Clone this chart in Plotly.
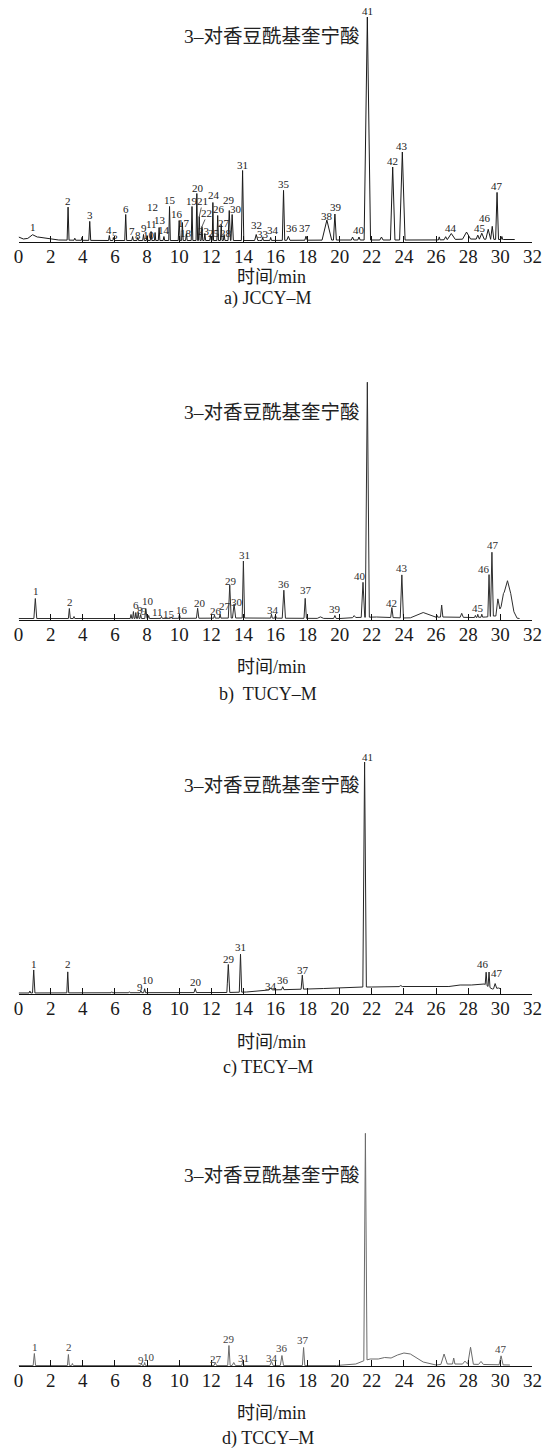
import numpy as np
import plotly.graph_objects as go

# ======================= DATA =======================
# retention time (min), peak height above baseline (a.u.), base width (min), peak number
# ---- a) JCCY-M
rt_a = [0.87, 3.08, 3.5, 3.95, 4.43, 5.65, 5.92, 6.67, 7.1, 7.42, 7.78, 8.0, 8.25, 8.5, 8.75, 9.05,
        9.4, 10.0, 10.2, 10.45, 10.8, 11.1, 11.25, 11.42, 11.6, 11.95, 12.1, 12.4, 12.62, 12.8,
        13.12, 13.3, 13.95, 14.8, 15.2, 15.7, 16.5, 16.8, 17.9, 19.2, 19.7, 20.8, 21.2, 21.72,
        22.6, 23.3, 23.9, 26.2, 26.6, 26.95, 27.9, 28.6, 28.85, 29.25, 29.5, 29.8, 30.1]
h_a = [3, 33, 2, 3, 19, 5, 3, 26, 4, 3, 6, 5, 9, 8, 13, 4,
       34, 20, 18, 7, 34, 47, 24, 14, 7, 5, 38, 25, 16, 6,
       30, 26, 70, 6, 3, 3, 50, 4, 4, 20, 26, 3, 3, 223,
       3, 73, 88, 3, 3, 6, 7, 4, 6, 10, 13, 47, 3]
w_a = [0.6, 0.12, 0.1, 0.08, 0.12, 0.1, 0.1, 0.12, 0.1, 0.1, 0.1, 0.1, 0.1, 0.08, 0.1, 0.1,
       0.1, 0.12, 0.1, 0.1, 0.1, 0.1, 0.1, 0.1, 0.1, 0.1, 0.08, 0.1, 0.1, 0.1,
       0.15, 0.15, 0.15, 0.2, 0.1, 0.1, 0.15, 0.2, 0.15, 0.6, 0.18, 0.15, 0.15, 0.4,
       0.2, 0.28, 0.34, 0.1, 0.2, 0.5, 0.5, 0.2, 0.3, 0.3, 0.2, 0.18, 0.1]
lab_a = ['1', '2', '', '', '3', '4', '5', '6', '7', '8', '9', '10', '11', '12', '13', '14',
         '15', '16', '17', '18', '19', '20', '21', '22', '23', '25', '24', '26', '27', '28',
         '29', '30', '31', '32', '33', '34', '35', '36', '37', '38', '39', '', '40', '41',
         '', '42', '43', '', '', '44', '', '', '45', '46', '', '47', '']
base_t_a = [0, 0.3, 1.2, 2.5, 5, 15, 20, 21.5, 26, 28, 30.2, 30.9]
base_h_a = [5, 3, 5, 2, 1.5, 1.5, 2, 2, 2, 3, 2.5, 2.5]

# ---- b) TUCY-M
rt_b = [1.04, 3.16, 3.45, 7.0, 7.15, 7.3, 7.45, 7.6, 7.92, 8.1, 8.9, 9.5, 10.02, 11.15, 12.2,
        12.55, 13.15, 13.42, 14.0, 15.75, 16.0, 16.52, 17.85, 18.8, 19.7, 20.9, 21.45, 21.72,
        23.25, 23.87, 25.2, 26.05, 26.35, 27.6, 28.45, 28.6, 28.85, 29.3, 29.48, 29.85,
        30.2, 30.45, 30.65]
h_b = [20, 10, 2, 4, 7, 6, 6, 4, 10, 3, 2, 1.5, 4, 10, 3,
       4, 33, 14, 57, 4, 3, 28, 20, 1.5, 3, 2, 35, 235,
       10, 43, 5, 2, 12, 4, 2, 3, 3, 42, 64, 14,
       14, 24, 12]
w_b = [0.18, 0.12, 0.1, 0.1, 0.1, 0.1, 0.1, 0.1, 0.12, 0.1, 0.1, 0.1, 0.1, 0.15, 0.1,
       0.1, 0.18, 0.2, 0.15, 0.1, 0.1, 0.2, 0.15, 0.4, 0.15, 0.2, 0.22, 0.25,
       0.15, 0.2, 1.6, 0.1, 0.15, 0.2, 0.1, 0.1, 0.1, 0.15, 0.18, 0.25,
       0.9, 0.8, 0.8]
lab_b = ['1', '2', '', '', '6', '', '8', '9', '10', '', '11', '15', '16', '20', '26',
         '27', '29', '30', '31', '34', '', '36', '37', '', '39', '', '40', '41',
         '42', '43', '', '', '', '', '', '45', '', '46', '47', '',
         '', '', '']
base_t_b = [0, 8, 14, 20, 21, 22.3, 24, 26.5, 28.3, 29.1, 29.6, 30.0, 31.2]
base_h_b = [1.5, 1.5, 2, 1.5, 2.5, 3, 2, 3, 2.5, 3, 4, 4, 1.5]

# ---- c) TECY-M
rt_c = [0.7, 0.94, 3.06, 5.8, 6.9, 7.62, 7.85, 11.0, 13.06, 13.82, 15.7, 16.45, 17.67, 21.55,
        23.8, 29.12, 29.3, 29.68]
h_c = [2, 23, 21, 1, 1, 2, 4, 4, 28, 38, 2, 3, 14, 225, 1, 13, 15, 5]
w_c = [0.1, 0.15, 0.12, 0.1, 0.1, 0.1, 0.12, 0.15, 0.18, 0.15, 0.2, 0.15, 0.15, 0.22,
       0.2, 0.12, 0.12, 0.2]
lab_c = ['', '1', '2', '', '', '9', '10', '20', '29', '31', '34', '36', '37', '41',
         '', '46', '', '47']
base_t_c = [0, 13, 14.2, 15.5, 17, 19, 21.4, 22, 24, 26.8, 27.5, 28.2, 29, 29.5, 29.9, 30.05]
base_h_c = [1, 1.5, 2, 4, 4.5, 5.5, 7, 7, 7.5, 7.5, 9, 9, 10, 5, 6, 5]

# ---- d) TCCY-M
rt_d = [0.98, 3.1, 3.35, 7.65, 7.85, 12.25, 13.1, 13.4, 13.97, 15.75, 16.4, 17.75, 21.6,
        26.5, 27.1, 27.8, 28.15, 28.8, 30.05]
h_d = [12, 11, 2, 2, 3, 3, 20, 3, 4, 4, 10, 18, 227, 10, 6, 3, 17, 3, 9]
w_d = [0.15, 0.12, 0.1, 0.1, 0.1, 0.15, 0.15, 0.2, 0.15, 0.2, 0.2, 0.15, 0.2,
       0.4, 0.15, 0.3, 0.35, 0.3, 0.25]
lab_d = ['1', '2', '', '9', '10', '27', '29', '', '31', '34', '36', '37', '41',
         '', '', '', '', '', '47']
base_t_d = [0, 19.8, 21.0, 21.45, 21.9, 22.4, 22.8, 23.2, 23.6, 24.0, 24.4, 24.8, 25.2, 26.0,
            26.5, 27.5, 29.0, 30.6]
base_h_d = [0.5, 0.5, 2, 5, 7, 7, 8.5, 8, 11, 13, 12, 8, 4, 1, 2, 2, 1.5, 1]

x_ticks = [0, 2, 4, 6, 8, 10, 12, 14, 16, 18, 20, 22, 24, 26, 28, 30, 32]
panel_titles = ['a) JCCY\u2013M', 'b)  TUCY\u2013M', 'c) TECY\u2013M', 'd) TCCY\u2013M']
compound_label = '3\u2013对香豆酰基奎宁酸'
x_title = '时间/min'

# ======================= LAYOUT / STYLE =======================
W, H = 556, 1449
SERIF = '"Liberation Serif", "Times New Roman", Times, "DejaVu Serif", "Noto Sans CJK SC", serif'
axis_px = [242, 620, 994, 1366]          # pixel row of each x axis
plot_h = 240                               # pixel height of each plot area (y range == px)
x_left, x_right = 14, 542
line_colors = ['#1a1a1a', '#2e2e2e', '#262626', '#6b6b6b']
label_colors = ['#1a1a1a', '#2e2e2e', '#262626', '#444444']

# label position overrides (time, height) for crowded labels
lab_pos = [
    {'1': (0.9, 15), '4': (5.64, 12), '5': (6.0, 7), '7': (7.09, 11), '8': (7.45, 7),
     '9': (7.82, 14), '10': (8.1, 7), '11': (8.3, 18), '12': (8.36, 35), '13': (8.79, 22),
     '14': (9.03, 12), '15': (9.45, 42), '16': (9.88, 28), '17': (10.3, 19), '18': (10.42, 9),
     '19': (10.79, 41), '20': (11.15, 54), '21': (11.45, 41), '22': (11.7, 29), '23': (11.52, 11),
     '24': (12.18, 47), '25': (12.18, 9), '26': (12.48, 33), '27': (12.79, 19), '28': (12.91, 9),
     '29': (13.09, 42), '30': (13.52, 33), '32': (14.79, 17), '33': (15.2, 8), '34': (15.86, 12),
     '36': (17.03, 14), '37': (17.82, 14), '38': (19.2, 26), '39': (19.76, 35), '40': (21.2, 12),
     '44': (26.9, 14), '45': (28.73, 14), '46': (29.03, 24)},
    {'1': (1.09, 29), '2': (3.21, 18), '6': (7.29, 15), '8': (7.58, 10), '9': (7.78, 9),
     '10': (8.08, 19), '11': (8.65, 8), '15': (9.39, 6), '16': (10.16, 10), '20': (11.27, 17),
     '26': (12.28, 9), '27': (12.83, 14), '29': (13.23, 39), '30': (13.6, 18), '31': (14.04, 65),
     '34': (15.82, 10), '36': (16.56, 36), '37': (17.88, 30), '39': (19.7, 11), '40': (21.27, 44),
     '41': (21.76, 244), '42': (23.23, 17), '43': (23.9, 52), '45': (28.6, 12), '46': (29.01, 51),
     '47': (29.52, 75)},
    {'1': (0.97, 30), '2': (3.09, 30), '9': (7.56, 7), '10': (8.04, 14), '20': (11.07, 12),
     '29': (13.09, 35), '31': (13.84, 47), '34': (15.72, 8), '36': (16.48, 14), '37': (17.7, 24),
     '41': (21.7, 237), '46': (28.9, 30), '47': (29.82, 21)},
    {'1': (1.01, 19), '2': (3.13, 19), '9': (7.6, 6), '10': (8.1, 9), '27': (12.28, 7),
     '29': (13.13, 27), '31': (14.0, 8), '34': (15.76, 8), '36': (16.42, 18), '37': (17.74, 26),
     '41': (21.64, 241), '47': (30.06, 17)},
]
leaders_a = {'21', '22'}
compound_px = [(274, 36), (274, 412), (274, 785), (274, 1175)]
xtitle_px = [277, 667, 1042, 1413]
ptitle_px = [299, 694, 1067, 1438]


def chromatogram(rt, h, w, bt, bh):
    pts = set(bt)
    for r, ww in zip(rt, w):
        pts.update([r - ww / 2, r, r + ww / 2])
    t = np.array(sorted(p for p in pts if bt[0] <= p <= bt[-1]))
    y = np.interp(t, bt, bh)
    for r, hh, ww in zip(rt, h, w):
        y = y + hh * np.clip(1 - np.abs(t - r) / (ww / 2), 0, None)
    return t, y


def value_at(x, rt, h, w, bt, bh):
    v = float(np.interp(x, bt, bh))
    for r, hh, ww in zip(rt, h, w):
        v += hh * max(0.0, 1 - abs(x - r) / (ww / 2))
    return v


panels = [
    (rt_a, h_a, w_a, lab_a, base_t_a, base_h_a),
    (rt_b, h_b, w_b, lab_b, base_t_b, base_h_b),
    (rt_c, h_c, w_c, lab_c, base_t_c, base_h_c),
    (rt_d, h_d, w_d, lab_d, base_t_d, base_h_d),
]

fig = go.Figure()
annotations = []
layout_axes = {}

for i, (rt, hh, ww, labs, bt, bh) in enumerate(panels):
    n = '' if i == 0 else str(i + 1)
    xa, ya = 'x' + n, 'y' + n
    t, y = chromatogram(rt, hh, ww, bt, bh)
    fig.add_trace(go.Scatter(x=t, y=y, mode='lines', xaxis=xa, yaxis=ya,
                             line=dict(color=line_colors[i], width=1), hoverinfo='skip',
                             showlegend=False, cliponaxis=False))
    y0 = 1 - axis_px[i] / H
    y1 = 1 - (axis_px[i] - plot_h) / H
    layout_axes['xaxis' + n] = dict(
        domain=[x_left / W, x_right / W], range=[0, 32], anchor=ya,
        tickvals=x_ticks, ticktext=[str(v) for v in x_ticks],
        ticks='inside', ticklen=6, tickwidth=1, tickcolor='#111', ticklabelstandoff=-3,
        showline=True, linecolor='#111', linewidth=1.3, showgrid=False, zeroline=False,
        tickfont=dict(family=SERIF, size=19, color='#1a1a1a'), fixedrange=True)
    layout_axes['yaxis' + n] = dict(
        domain=[y0, y1], range=[0, plot_h], anchor=xa, visible=False, fixedrange=True)

    # peak labels
    for r, lab in zip(rt, labs):
        if not lab:
            continue
        apex = value_at(r, rt, hh, ww, bt, bh)
        if lab in lab_pos[i]:
            lx, ly = lab_pos[i][lab]
        else:
            lx, ly = r, apex + 6
        if i == 0 and lab in leaders_a:
            annotations.append(dict(
                x=r, y=apex, xref=xa, yref=ya, ax=lx - 0.05, ay=ly - 5, axref=xa, ayref=ya,
                showarrow=True, arrowhead=0, arrowwidth=0.8, arrowcolor='#333', text='',
                standoff=0, startstandoff=0))
        annotations.append(dict(
            x=lx, y=ly, xref=xa, yref=ya, text=lab, showarrow=False,
            xanchor='center', yanchor='middle',
            font=dict(family=SERIF, size=11, color=label_colors[i])))

    cx, cy = compound_px[i]
    annotations.append(dict(x=cx / W, y=1 - cy / H, xref='paper', yref='paper',
                            text=compound_label, showarrow=False, xanchor='center',
                            yanchor='middle',
                            font=dict(family=SERIF, size=19.5, color='#222')))
    annotations.append(dict(x=274 / W, y=1 - xtitle_px[i] / H, xref='paper', yref='paper',
                            text=x_title, showarrow=False, xanchor='center', yanchor='middle',
                            font=dict(family=SERIF, size=18, color='#1a1a1a')))
    annotations.append(dict(x=270 / W, y=1 - ptitle_px[i] / H, xref='paper', yref='paper',
                            text=panel_titles[i], showarrow=False, xanchor='center',
                            yanchor='middle',
                            font=dict(family=SERIF, size=18, color='#1a1a1a')))

fig.update_layout(width=W, height=H, margin=dict(l=0, r=0, t=0, b=0),
                  paper_bgcolor='white', plot_bgcolor='white',
                  annotations=annotations, showlegend=False, **layout_axes)

fig.write_html('out.html', config={'displayModeBar': False},
               post_script='document.body.style.margin="0";document.body.style.padding="0";')
